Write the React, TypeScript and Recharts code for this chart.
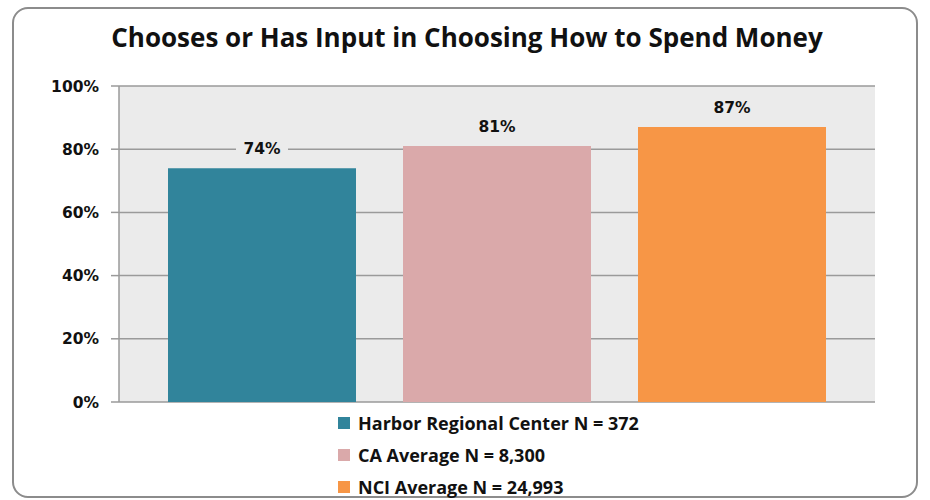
import React from 'react';
import { BarChart, Bar, XAxis, YAxis, CartesianGrid, Legend, LabelList } from 'recharts';

const categories = ['Chooses or Has Input in Choosing How to Spend Money'];
const seriesNames = ['Harbor Regional Center N = 372', 'CA Average N = 8,300', 'NCI Average N = 24,993'];
const harborValues = [74];
const caValues = [81];
const nciValues = [87];
const yTicks = [0, 20, 40, 60, 80, 100];

const seriesColors = ['#31849b', '#daa9aa', '#f79646'];
const plotBg = '#ebebeb';
const gridColor = '#9a9a9a';
const font = '"Open Sans", "DejaVu Sans", sans-serif';
const numFont = '"DejaVu Sans", Verdana, sans-serif';

const data = categories.map((name, i) => ({
  name,
  harbor: harborValues[i],
  ca: caValues[i],
  nci: nciValues[i],
}));

// value label sits on a patch of plot background so the gridline is hidden behind it
const renderValueLabel = (props: any) => {
  const { x, y, width, value } = props;
  const cx = x + width / 2;
  const ty = y - 19;
  return (
    <g>
      <rect x={cx - 26} y={ty - 11} width={52} height={22} fill={plotBg} />
      <text
        x={cx}
        y={ty}
        textAnchor="middle"
        dominantBaseline="central"
        style={{ fontFamily: numFont, fontSize: 15.5, fontWeight: 'bold', fill: '#111' }}
      >
        {value}%
      </text>
    </g>
  );
};

const renderLegend = (props: any) => {
  const { payload = [] } = props;
  return (
    <div style={{ fontFamily: font, fontWeight: 'bold', fontSize: 18, lineHeight: '22px', color: '#111' }}>
      {payload.map((entry: any) => (
        <div key={entry.value} style={{ display: 'flex', alignItems: 'center', height: 32 }}>
          <span
            style={{ display: 'inline-block', width: 12, height: 12, background: entry.color, marginRight: 8 }}
          />
          {entry.value}
        </div>
      ))}
    </div>
  );
};

export default function App() {
  return (
    <div style={{ position: 'absolute', left: 0, top: 0, width: 930, height: 500, background: '#fff' }}>
      <div
        style={{
          position: 'absolute',
          left: 12,
          top: 7,
          width: 906,
          height: 491,
          border: '2px solid #8c8c8c',
          borderRadius: 16,
          boxSizing: 'border-box',
        }}
      />
      <div
        style={{
          position: 'absolute',
          left: 0,
          top: 19,
          width: 934,
          textAlign: 'center',
          fontFamily: font,
          fontWeight: 'bold',
          fontSize: 26,
          color: '#111',
        }}
      >
        Chooses or Has Input in Choosing How to Spend Money
      </div>
      <BarChart
        width={930}
        height={500}
        data={data}
        margin={{ top: 86, right: 55, bottom: 98, left: 59 }}
        barGap={47}
        style={{ position: 'absolute', left: 0, top: 0 }}
      >
        <CartesianGrid vertical={false} fill={plotBg} stroke={gridColor} strokeWidth={1.5} />
        <XAxis dataKey="name" hide />
        <YAxis
          width={60}
          domain={[0, 100]}
          ticks={yTicks}
          interval={0}
          tickFormatter={(v: number) => `${v}%`}
          axisLine={{ stroke: gridColor, strokeWidth: 1.5 }}
          tickLine={{ stroke: gridColor, strokeWidth: 1.5 }}
          tickSize={8}
          tickMargin={12}
          tick={{ fontFamily: numFont, fontSize: 15.5, fontWeight: 'bold', fill: '#111' }}
        />
        <Legend
          layout="vertical"
          verticalAlign="middle"
          align="center"
          itemSorter={(item: any) => seriesNames.indexOf(item.value)}
          content={renderLegend}
          wrapperStyle={{ position: 'absolute', left: 338, top: 407, width: 400 }}
        />
        <Bar dataKey="harbor" name={seriesNames[0]} fill={seriesColors[0]} barSize={188} isAnimationActive={false}>
          <LabelList dataKey="harbor" content={renderValueLabel} />
        </Bar>
        <Bar dataKey="ca" name={seriesNames[1]} fill={seriesColors[1]} barSize={188} isAnimationActive={false}>
          <LabelList dataKey="ca" content={renderValueLabel} />
        </Bar>
        <Bar dataKey="nci" name={seriesNames[2]} fill={seriesColors[2]} barSize={188} isAnimationActive={false}>
          <LabelList dataKey="nci" content={renderValueLabel} />
        </Bar>
      </BarChart>
    </div>
  );
}
